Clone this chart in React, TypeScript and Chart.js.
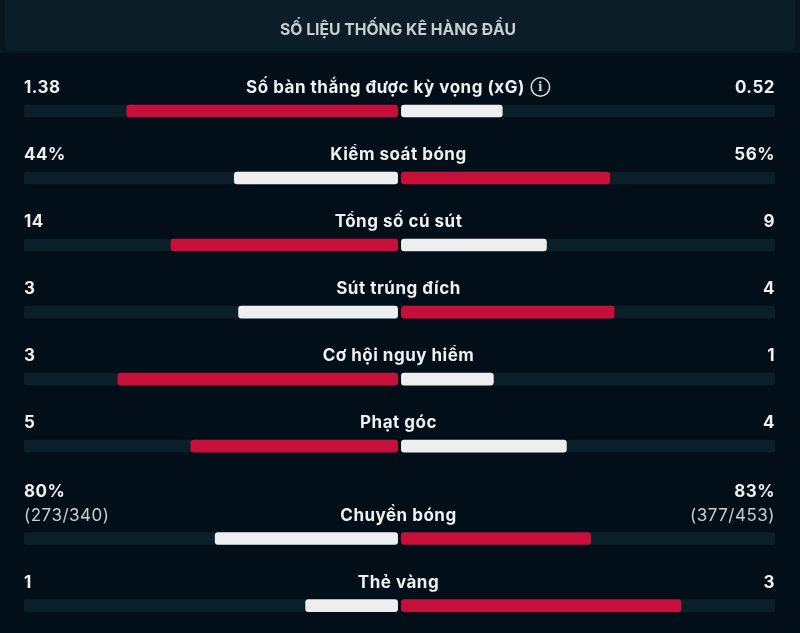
import React, { useEffect, useRef } from "react";
import { Chart, registerables } from "chart.js";

Chart.register(...registerables);

const TITLE = "SỐ LIỆU THỐNG KÊ HÀNG ĐẦU";
const statLabels = [
  "Số bàn thắng được kỳ vọng (xG)",
  "Kiểm soát bóng",
  "Tổng số cú sút",
  "Sút trúng đích",
  "Cơ hội nguy hiểm",
  "Phạt góc",
  "Chuyền bóng",
  "Thẻ vàng",
];
const homeValues = [1.38, 44, 14, 3, 3, 5, 80, 1];
const awayValues = [0.52, 56, 9, 4, 1, 4, 83, 3];
const homeText = ["1.38", "44%", "14", "3", "3", "5", "80%", "1"];
const awayText = ["0.52", "56%", "9", "4", "1", "4", "83%", "3"];
const homeSub = ["", "", "", "", "", "", "(273/340)", ""];
const awaySub = ["", "", "", "", "", "", "(377/453)", ""];
const infoIcon = [true, false, false, false, false, false, false, false];

const RED = "#c70f3b";
const WHITE = "#eceef0";
const TRACK = "#0a1f28";
const BG = "#030f18";
const GAP = 0.005;
const FONT = "Inter, 'Noto Sans', sans-serif";

// row positions on the y scale: two-line rows take extra room
const rowPos: number[] = [];
{
  let p = 0;
  for (let i = 0; i < statLabels.length; i++) {
    if (i > 0) p += 1;
    if (homeSub[i] || awaySub[i]) p += 0.38;
    rowPos.push(p);
  }
}

export default function App() {
  const ref = useRef<HTMLCanvasElement | null>(null);

  useEffect(() => {
    if (!ref.current) return;
    const shareH = homeValues.map((v, i) => v / (v + awayValues[i]));
    const shareA = awayValues.map((v, i) => v / (homeValues[i] + v));
    const homeWins = homeValues.map((v, i) => v > awayValues[i]);

    const bgPlugin = {
      id: "bg",
      beforeDraw(chart: any) {
        const ctx = chart.ctx;
        ctx.save();
        ctx.fillStyle = BG;
        ctx.fillRect(0, 0, chart.width, chart.height);
        // header
        ctx.fillStyle = "#08161f";
        ctx.fillRect(0, 0, chart.width, 53);
        ctx.fillStyle = "#0b1e28";
        ctx.beginPath();
        (ctx as any).roundRect(5, 0, chart.width - 10, 51, [0, 0, 6, 6]);
        ctx.fill();
        ctx.fillStyle = "#c6ced5";
        ctx.font = `bold 16px ${FONT}`;
        ctx.textAlign = "center";
        ctx.textBaseline = "alphabetic";
        ctx.fillText(TITLE, 398, 35, 236);
        ctx.restore();
      },
    };

    const textPlugin = {
      id: "texts",
      afterDatasetsDraw(chart: any) {
        const ctx = chart.ctx;
        const ys = chart.scales.y;
        const left = chart.chartArea.left;
        const right = chart.chartArea.right;
        ctx.save();
        ctx.textBaseline = "alphabetic";
        (ctx as any).letterSpacing = "0.5px";
        for (let i = 0; i < statLabels.length; i++) {
          const cy = ys.getPixelForValue(rowPos[i]);
          const base = cy - 18;
          const hasSub = !!(homeSub[i] || awaySub[i]);
          const mainBase = hasSub ? cy - 42 : base;
          ctx.fillStyle = "#eef0f2";
          ctx.font = `bold 17px ${FONT}`;
          ctx.textAlign = "left";
          ctx.fillText(homeText[i], left, mainBase);
          ctx.textAlign = "right";
          ctx.fillText(awayText[i], right, mainBase);
          if (hasSub) {
            ctx.fillStyle = "#c9ced3";
            ctx.font = `17px ${FONT}`;
            ctx.textAlign = "left";
            ctx.fillText(homeSub[i], left, base);
            ctx.textAlign = "right";
            ctx.fillText(awaySub[i], right, base);
          }
          // label
          ctx.fillStyle = "#eef0f2";
          ctx.font = `bold 17px ${FONT}`;
          const w = ctx.measureText(statLabels[i]).width;
          const iconW = infoIcon[i] ? 26 : 0;
          const startX = 398.5 - (w + iconW) / 2;
          ctx.textAlign = "left";
          ctx.fillText(statLabels[i], startX, base);
          if (infoIcon[i]) {
            const cx = startX + w + 6 + 9.5;
            const ccy = base - 6;
            ctx.strokeStyle = "#d5d9dd";
            ctx.lineWidth = 1.6;
            ctx.beginPath();
            ctx.arc(cx, ccy, 9.2, 0, Math.PI * 2);
            ctx.stroke();
            ctx.fillStyle = "#d5d9dd";
            (ctx as any).letterSpacing = "0px";
            ctx.font = `bold 12px 'DejaVu Serif', serif`;
            ctx.textAlign = "center";
            ctx.textBaseline = "middle";
            ctx.fillText("i", cx, ccy + 0.5);
            ctx.textBaseline = "alphabetic";
            (ctx as any).letterSpacing = "0.5px";
          }
        }
        ctx.restore();
      },
    };

    const chart = new Chart(ref.current, {
      type: "bar",
      data: {
        datasets: [
          {
            label: "home",
            data: rowPos.map((p, i) => ({ y: p, x: [-shareH[i], -GAP] })) as any,
            backgroundColor: homeWins.map((w) => (w ? RED : WHITE)),
            order: 1,
          },
          {
            label: "away",
            data: rowPos.map((p, i) => ({ y: p, x: [GAP, shareA[i]] })) as any,
            backgroundColor: homeWins.map((w) => (w ? WHITE : RED)),
            order: 1,
          },
          {
            label: "trackL",
            data: rowPos.map((p) => ({ y: p, x: [-1, -GAP] })) as any,
            backgroundColor: TRACK,
            order: 2,
          },
          {
            label: "trackR",
            data: rowPos.map((p) => ({ y: p, x: [GAP, 1] })) as any,
            backgroundColor: TRACK,
            order: 2,
          },
        ],
      },
      options: {
        indexAxis: "y",
        animation: false,
        responsive: false,
        devicePixelRatio: 1,
        events: [],
        layout: { padding: { left: 24, right: 25, top: 44, bottom: 6 } },
        datasets: {
          bar: {
            grouped: false,
            barThickness: 12,
            borderRadius: 3,
            borderSkipped: false,
            borderWidth: 0,
          } as any,
        },
        scales: {
          x: { type: "linear", min: -1, max: 1, display: false, offset: false },
          y: { type: "linear", min: -1, max: 7.7, reverse: true, display: false, offset: false },
        },
        plugins: {
          legend: { display: false },
          tooltip: { enabled: false },
        },
      },
      plugins: [bgPlugin, textPlugin],
    });
    return () => chart.destroy();
  }, []);

  return (
    <div style={{ position: "absolute", left: 0, top: 0, width: 800, height: 633 }}>
      <canvas ref={ref} width={800} height={633} style={{ display: "block" }} />
    </div>
  );
}
